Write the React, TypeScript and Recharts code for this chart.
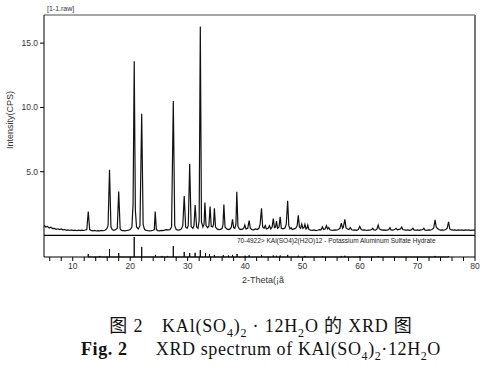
import React from "react";
import { LineChart, Line, XAxis, YAxis, ReferenceLine } from "recharts";

// Measured XRD pattern: [2-Theta, intensity (x10^3 CPS)]
const spectrum: [number, number][] = [
  [5.0, 0.85], [5.3, 0.7], [5.6, 0.75], [5.9, 0.62], [6.2, 0.68], [6.5, 0.58], [6.8, 0.6], [7.1, 0.52],
  [7.4, 0.56], [7.7, 0.5], [8.0, 0.55], [8.3, 0.48], [8.6, 0.5], [8.9, 0.44], [9.2, 0.48], [9.5, 0.43],
  [9.8, 0.47], [10.1, 0.42], [10.4, 0.46], [10.7, 0.41], [11.0, 0.45], [11.3, 0.42], [11.6, 0.46],
  [11.9, 0.43], [12.2, 0.47], [12.45, 0.5], [12.7, 1.9], [12.95, 0.5], [13.2, 0.44], [13.5, 0.4],
  [13.8, 0.43], [14.1, 0.39], [14.4, 0.42], [14.7, 0.4], [15.0, 0.43], [15.3, 0.41], [15.6, 0.45],
  [15.9, 0.55], [16.15, 0.8], [16.4, 5.15], [16.65, 0.7], [16.9, 0.48], [17.2, 0.44], [17.5, 0.5],
  [17.75, 0.6], [18.0, 3.45], [18.25, 0.55], [18.5, 0.44], [18.8, 0.42], [19.1, 0.4], [19.4, 0.43],
  [19.7, 0.45], [20.0, 0.5], [20.3, 0.7], [20.5, 2.5], [20.7, 13.6], [20.9, 2.0], [21.1, 0.7],
  [21.4, 0.55], [21.7, 0.8], [22.0, 9.5], [22.25, 0.9], [22.5, 0.5], [22.8, 0.44], [23.1, 0.41],
  [23.4, 0.4], [23.7, 0.42], [24.0, 0.45], [24.2, 0.5], [24.35, 1.9], [24.55, 0.5], [24.8, 0.42],
  [25.1, 0.4], [25.4, 0.44], [25.7, 0.42], [26.0, 0.46], [26.3, 0.5], [26.6, 0.48], [26.9, 0.5],
  [27.2, 0.7], [27.5, 10.5], [27.75, 0.8], [28.0, 0.5], [28.3, 0.46], [28.6, 0.48], [28.9, 0.55],
  [29.15, 0.8], [29.4, 3.1], [29.65, 0.7], [29.9, 0.6], [30.1, 0.8], [30.35, 5.6], [30.6, 0.75],
  [30.9, 0.6], [31.1, 0.8], [31.3, 2.4], [31.55, 0.7], [31.8, 0.6], [32.0, 1.2], [32.2, 16.3],
  [32.4, 1.1], [32.65, 0.7], [32.85, 0.9], [33.0, 2.6], [33.2, 0.8], [33.5, 0.65], [33.7, 0.8],
  [33.9, 2.3], [34.1, 0.75], [34.35, 0.7], [34.5, 0.9], [34.65, 2.15], [34.85, 0.7], [35.1, 0.55],
  [35.4, 0.5], [35.7, 0.52], [36.0, 0.6], [36.15, 0.9], [36.3, 2.45], [36.5, 0.7], [36.8, 0.55],
  [37.1, 0.5], [37.4, 0.55], [37.6, 0.7], [37.8, 1.3], [38.0, 0.65], [38.2, 0.6], [38.4, 0.9],
  [38.55, 3.45], [38.75, 0.75], [39.0, 0.55], [39.3, 0.5], [39.6, 0.55], [39.8, 0.65], [39.95, 0.86],
  [40.15, 0.55], [40.45, 0.6], [40.7, 1.2], [40.9, 0.6], [41.2, 0.5], [41.5, 0.48], [41.8, 0.55],
  [42.1, 0.5], [42.4, 0.6], [42.6, 0.9], [42.85, 2.15], [43.05, 0.7], [43.3, 0.6], [43.5, 0.8],
  [43.7, 0.55], [44.0, 0.6], [44.25, 0.8], [44.45, 0.55], [44.7, 0.7], [44.9, 1.35], [45.1, 0.65],
  [45.3, 0.7], [45.45, 1.15], [45.65, 0.6], [45.9, 0.7], [46.1, 1.5], [46.3, 0.6], [46.6, 0.55],
  [46.9, 0.6], [47.15, 0.9], [47.4, 2.73], [47.6, 0.8], [47.8, 0.55], [48.0, 0.65], [48.2, 0.5],
  [48.5, 0.55], [48.8, 0.6], [49.05, 0.8], [49.25, 1.6], [49.45, 0.7], [49.65, 0.6], [49.85, 0.93],
  [50.05, 0.6], [50.25, 0.65], [50.4, 0.9], [50.6, 0.55], [50.75, 0.6], [50.9, 0.85], [51.1, 0.5],
  [51.4, 0.46], [51.7, 0.44], [52.0, 0.48], [52.3, 0.42], [52.6, 0.45], [52.9, 0.5], [53.2, 0.48],
  [53.45, 0.7], [53.65, 0.5], [53.9, 0.55], [54.15, 0.8], [54.35, 0.55], [54.55, 0.65], [54.75, 0.48],
  [55.0, 0.46], [55.3, 0.44], [55.6, 0.47], [55.9, 0.45], [56.2, 0.5], [56.5, 0.6], [56.75, 1.0],
  [56.95, 0.6], [57.1, 0.7], [57.35, 1.3], [57.55, 0.65], [57.8, 0.55], [58.05, 0.5], [58.3, 0.65],
  [58.55, 0.48], [58.8, 0.45], [59.1, 0.47], [59.4, 0.44], [59.7, 0.5], [59.95, 0.75], [60.2, 0.5],
  [60.5, 0.45], [60.8, 0.47], [61.1, 0.43], [61.4, 0.46], [61.7, 0.45], [62.0, 0.5], [62.2, 0.6],
  [62.4, 0.47], [62.7, 0.45], [62.95, 0.55], [63.15, 0.85], [63.35, 0.55], [63.6, 0.5], [63.9, 0.46],
  [64.2, 0.48], [64.5, 0.44], [64.8, 0.47], [65.0, 0.5], [65.2, 0.65], [65.4, 0.48], [65.7, 0.46],
  [66.0, 0.5], [66.25, 0.6], [66.5, 0.48], [66.8, 0.52], [67.05, 0.55], [67.25, 0.7], [67.45, 0.5],
  [67.7, 0.47], [68.0, 0.45], [68.3, 0.48], [68.6, 0.44], [68.9, 0.47], [69.2, 0.6], [69.4, 0.46],
  [69.7, 0.45], [70.0, 0.48], [70.3, 0.44], [70.6, 0.47], [70.9, 0.5], [71.1, 0.6], [71.3, 0.46],
  [71.6, 0.44], [71.9, 0.47], [72.2, 0.45], [72.5, 0.5], [72.8, 0.6], [73.05, 1.25], [73.25, 0.7],
  [73.45, 0.6], [73.7, 0.5], [74.0, 0.46], [74.3, 0.48], [74.6, 0.45], [74.9, 0.5], [75.15, 0.6],
  [75.4, 1.1], [75.6, 0.55], [75.9, 0.47], [76.2, 0.45], [76.5, 0.48], [76.8, 0.44], [77.1, 0.47],
  [77.4, 0.45], [77.7, 0.48], [78.0, 0.44], [78.3, 0.47], [78.6, 0.45], [78.9, 0.48], [79.2, 0.44],
  [79.5, 0.46], [79.8, 0.45], [80.0, 0.45],
];

// Reference pattern 70-4922 sticks: [2-Theta, relative intensity %]
const sticks: [number, number][] = [
  [12.7, 14], [14.7, 5], [16.4, 38], [18.0, 19], [20.7, 95], [22.0, 48], [24.4, 10], [25.5, 5],
  [26.5, 5], [27.5, 52], [29.4, 24], [30.35, 19], [31.3, 20], [32.2, 33], [33.1, 19], [33.8, 14],
  [34.65, 10], [36.2, 9], [37.1, 7], [37.8, 10], [38.6, 14], [40.0, 6], [40.7, 8], [42.85, 10],
  [44.9, 7], [45.45, 6], [46.1, 7], [47.4, 10], [49.25, 6], [50.4, 5], [53.45, 4], [56.75, 5],
  [57.35, 6], [59.95, 4], [63.15, 4], [73.05, 5], [75.4, 4],
];

const xTicks = [6, 8, 10, 12, 14, 16, 18, 20, 22, 24, 26, 28, 30, 32, 34, 36, 38, 40, 42, 44, 46, 48, 50,
  52, 54, 56, 58, 60, 62, 64, 66, 68, 70, 72, 74, 76, 78, 80];
const yTicks = [0, 5, 10, 15];
const xDomain: [number, number] = [5, 80];
const yMax = 17.19;

const spectrumData = spectrum.map(([x, y]) => ({ x, y }));
const stickData = sticks.flatMap(([x, h]) => [
  { x, h: 0 },
  { x, h },
  { x, h: 0 },
]);

const sans = "'Liberation Sans', Arial, sans-serif";
const serif = "'Liberation Serif', 'Times New Roman', 'Noto Sans CJK SC', serif";
const cjk = "'Noto Sans CJK SC', sans-serif";
const subStyle = { fontSize: 12 };

export default function App() {
  return (
    <div style={{ position: "absolute", left: 0, top: 0, width: 480, height: 371, background: "#fff", fontFamily: sans }}>
      <div style={{ position: "absolute", left: 0, top: 0 }}>
        <LineChart width={480} height={236} data={spectrumData} margin={{ top: 15, right: 5, left: 0, bottom: 0 }}>
          <XAxis type="number" dataKey="x" domain={xDomain} hide allowDataOverflow />
          <YAxis
            type="number"
            domain={[0, yMax]}
            ticks={yTicks}
            width={44}
            tickSize={4}
            axisLine={{ stroke: "#000", strokeWidth: 1 }}
            tickLine={{ stroke: "#000" }}
            tick={{ fontSize: 8.5, fill: "#333", fontFamily: sans }}
            tickFormatter={(v: number) => (v === 0 ? "x10^3" : v.toFixed(1))}
            allowDataOverflow
          />
          <ReferenceLine y={yMax} stroke="#888" strokeWidth={1.5} />
          <ReferenceLine x={80} stroke="#777" strokeWidth={2} />
          <Line type="linear" dataKey="y" stroke="#111" strokeWidth={1.2} dot={false} isAnimationActive={false} />
          <ReferenceLine y={0} stroke="#000" strokeWidth={2.5} />
        </LineChart>
      </div>
      <div style={{ position: "absolute", left: 0, top: 235 }}>
        <LineChart width={480} height={40} data={stickData} margin={{ top: 1, right: 5, left: 0, bottom: 0 }}>
          <XAxis
            type="number"
            dataKey="x"
            domain={xDomain}
            ticks={xTicks}
            interval={0}
            height={18}
            tickSize={4}
            axisLine={{ stroke: "#000", strokeWidth: 1.2 }}
            tickLine={{ stroke: "#000" }}
            tick={{ fontSize: 8.5, fill: "#333", fontFamily: sans }}
            tickFormatter={(v: number) => (v % 10 === 0 ? String(v) : "")}
            allowDataOverflow
          />
          <YAxis type="number" domain={[0, 100]} width={44} tick={false} tickLine={false} axisLine={{ stroke: "#000" }} />
          <ReferenceLine x={80} stroke="#777" strokeWidth={2} />
          <Line type="linear" dataKey="h" stroke="#111" strokeWidth={1} dot={false} isAnimationActive={false} />
        </LineChart>
      </div>
      <div style={{ position: "absolute", left: 47, top: 4, fontSize: 7, color: "#333", lineHeight: "9px" }}>[1-1.raw]</div>
      <div
        style={{
          position: "absolute",
          left: 10,
          top: 120,
          fontSize: 9,
          color: "#333",
          whiteSpace: "nowrap",
          transform: "translate(-50%, -50%) rotate(-90deg)",
        }}
      >
        Intensity(CPS)
      </div>
      <div style={{ position: "absolute", left: 237, top: 237, fontSize: 6.5, color: "#222", whiteSpace: "nowrap", lineHeight: "8px" }}>
        70-4922&gt; KAl(SO4)2(H2O)12 - Potassium Aluminum Sulfate Hydrate
      </div>
      <div style={{ position: "absolute", left: 263, top: 280, fontSize: 9, color: "#333", whiteSpace: "nowrap", transform: "translate(-50%, -50%)" }}>
        2-Theta(¡ã
      </div>
      <div style={{ position: "absolute", left: 21, width: 480, top: 313, textAlign: "center", fontFamily: serif, fontSize: 18, letterSpacing: 0.8, color: "#111", whiteSpace: "nowrap", lineHeight: "22px" }}>
        <span style={{ fontFamily: cjk }}>图</span> 2{"\u3000"}KAl(SO<sub style={subStyle}>4</sub>)<sub style={subStyle}>2</sub> · 12H<sub style={subStyle}>2</sub>O <span style={{ fontFamily: cjk }}>的</span> XRD <span style={{ fontFamily: cjk }}>图</span>
      </div>
      <div style={{ position: "absolute", left: 21, width: 480, top: 338, textAlign: "center", fontFamily: serif, fontSize: 18, letterSpacing: 0.6, color: "#111", whiteSpace: "nowrap", lineHeight: "22px" }}>
        <b>Fig. 2</b>{"\u2003\u2002"}XRD spectrum of KAl(SO<sub style={subStyle}>4</sub>)<sub style={subStyle}>2</sub>·12H<sub style={subStyle}>2</sub>O
      </div>
    </div>
  );
}
